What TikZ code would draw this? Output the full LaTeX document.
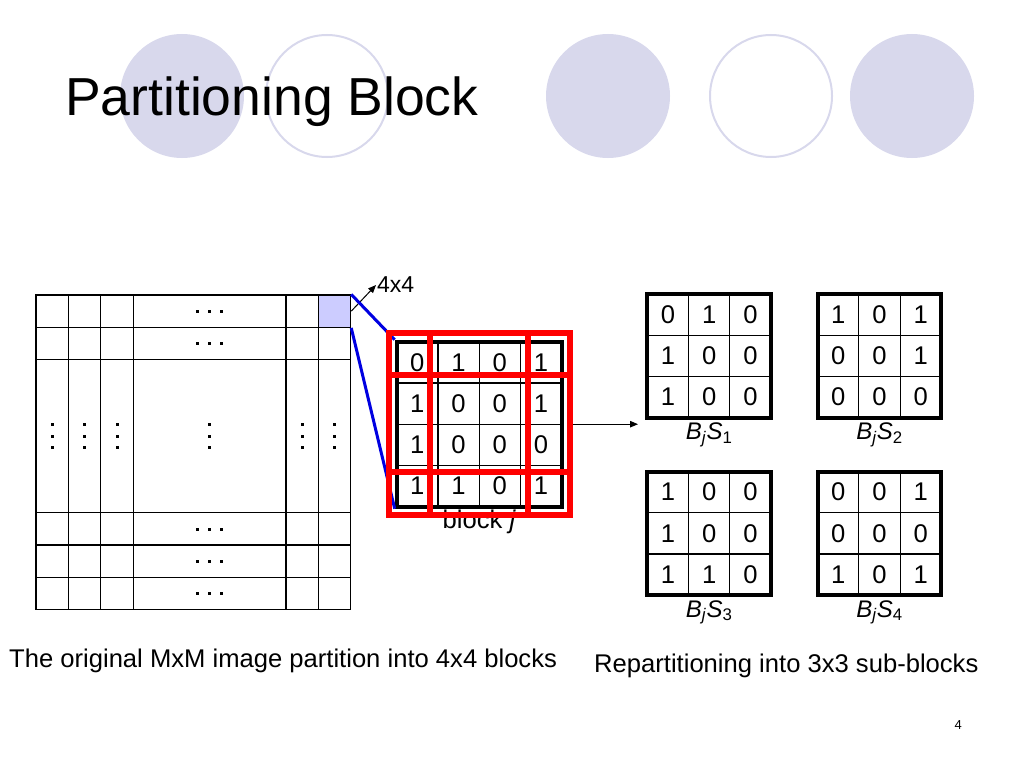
\documentclass[tikz,border=0pt]{standalone}
\usepackage{fontspec}
\setmainfont{Liberation Sans}
\usetikzlibrary{arrows.meta,positioning,calc}
\definecolor{lav}{RGB}{216,216,236}
\definecolor{hlblue}{RGB}{204,204,255}

\begin{document}
\begin{tikzpicture} [
        x=1pt, y=-1pt,
        disc/.style={circle, minimum size=124, inner sep=0pt},
        ring/.style={circle, draw=lav, line width=2pt, minimum size=122, inner sep=0pt},
        thin/.style={line width=1.1pt},
        cellnum/.style={font=\fontsize{25.6}{28}\selectfont, inner sep=0pt},
        grid3/.style={draw, line width=4pt, minimum size=123.7, inner sep=0pt},
        subbox/.style={draw=red, line width=6pt, minimum width=139.5, minimum height=139.5, inner sep=0pt},
        zoomline/.style={draw={rgb,255:red,0;green,0;blue,225}, line width=3pt},
        tip/.style={-{Triangle[length=8pt,width=6.5pt]}, line width=1pt} ]
    \useasboundingbox (0,0) rectangle (1024,768);
    \node[disc, fill=lav] (c1) at (182,96) {};
    \node[ring] (c2) at (327,96) {};
    \node[disc, fill=lav] (c3) at (608,96) {};
    \node[ring] (c4) at (771,96) {};
    \node[disc, fill=lav] (c5) at (912,96) {};
    \node[anchor=base west, inner sep=0pt, font=\fontsize{53.5}{60}\selectfont] (title) at (65,115) {Partitioning Block};

    \node[draw, thin, minimum width=314.7, minimum height=314.3, inner sep=0pt] (img) at (193.35,452.15) {};
    \foreach \x in {68.3,100.7,133.3,286,318.3}
        \draw[thin] (\x,295) -- (\x,609.3);
    \foreach \y in {327.3,359.3,512.7,545,577.3}
        \draw[thin] (36,\y) -- (350.7,\y);
    \node[draw, thin, fill=hlblue, minimum size=32.4, inner sep=0pt] (hl) at (334.5,311.15) {};
    \foreach \y in {311.1,343.3,529,561,593.3}
        \foreach \d in {-12,0,12}
            \fill (209.7+\d,\y) +(-1.5,-1.5) rectangle +(1.5,1.5);
    \foreach \x in {52.2,84.5,117,209.7,302.2,334.5}
        \foreach \d in {-11.7,0,11.7}
            \fill (\x,436+\d) +(-1.5,-1.5) rectangle +(1.5,1.5);

    \node[anchor=west, inner sep=1pt, font=\fontsize{23}{26}\selectfont] (sz) at (376,285) {4x4};
    \draw[tip] (hl.east) -- (sz.west);

    \node[draw, line width=4pt, minimum size=165, inner sep=0pt] (blk) at (479.2,424.2) {};
    \foreach \k in {1,2,3} {
        \draw[thin] (396.7+41.25*\k,341.7) -- ++(0,165);
        \draw[thin] (396.7,341.7+41.25*\k) -- ++(165,0);
    }
    \foreach \r/\vals in {0/{0,1,0,1},1/{1,0,0,1},2/{1,0,0,0},3/{1,1,0,1}}
        \foreach \v [count=\c from 0] in \vals
            \node[cellnum] (b-\r-\c) at (417.3+41.25*\c,362.3+41.25*\r) {\v};
    \node[cellnum, below=1pt of blk] (blkj) {block \textit{j}};
    \draw[zoomline] (hl.north east) -- (blk.north west);
    \draw[zoomline] (hl.south east) -- (blk.south west);

    \node[subbox] (r1) at (458.5,402.5) {};
    \node[subbox] (r2) at (500.2,402.5) {};
    \node[subbox] (r3) at (458.5,445) {};
    \node[subbox] (r4) at (500.2,445) {};

    \coordinate (split) at (638,424.2);
    \draw[tip] (r2.east |- blk.east) -- (split);

    \foreach \n/\cx/\cy/\vals in {1/709.2/355.7/{0,1,0,1,0,0,1,0,0},
                                  2/879.5/355.7/{1,0,1,0,0,1,0,0,0},
                                  3/709.2/533.4/{1,0,0,1,0,0,1,1,0},
                                  4/879.5/533.4/{0,0,1,0,0,0,1,0,1}} {
        \node[grid3] (s\n) at (\cx,\cy) {};
        \foreach \k in {-1,1} {
            \draw[thin] (\cx+20.6*\k,\cy-61.85) -- ++(0,123.7);
            \draw[thin] (\cx-61.85,\cy+20.6*\k) -- ++(123.7,0);
        }
        \foreach \v [count=\i from 0] in \vals {
            \pgfmathsetmacro\cc{mod(\i,3)}
            \pgfmathsetmacro\rr{int(\i/3)}
            \node[cellnum] (s\n-\i) at (\cx-41.23+41.23*\cc,\cy-41.23+41.23*\rr) {\v};
        }
        \node[below=3pt of s\n, inner sep=0pt, font=\fontsize{24}{27}\selectfont] (s\n-lbl)
            {\textit{B}\textsubscript{\textit{j}}\textit{S}\textsubscript{\n}};
    }

    \node[anchor=base west, inner sep=0pt, font=\fontsize{25.6}{30}\selectfont] (cap1) at (9,667)
        {The original MxM image partition into 4x4 blocks};
    \node[anchor=base, inner sep=0pt, font=\fontsize{25.6}{30}\selectfont] (cap2) at (786.3,672)
        {Repartitioning into 3x3 sub-blocks};
    \node[anchor=base, inner sep=0pt, font=\fontsize{13}{15}\selectfont] (pg) at (958.3,729.3) {4};
\end{tikzpicture}
\end{document}
